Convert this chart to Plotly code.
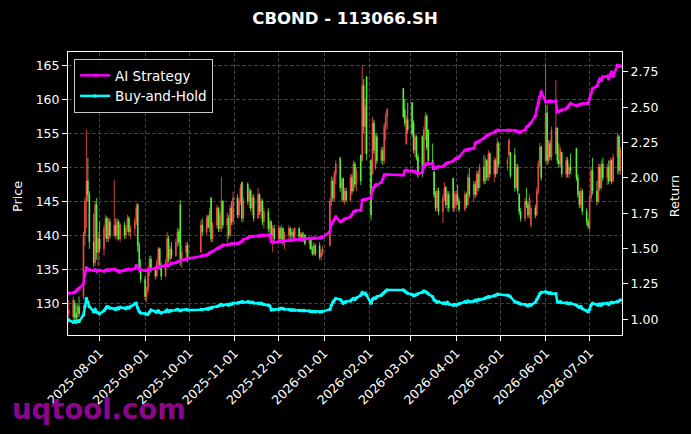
import pandas as pd
import plotly.graph_objects as go

# ---------------- data ----------------
holidays = [
    "2025-10-01", "2025-10-02", "2025-10-03", "2025-10-06", "2025-10-07", "2025-10-08",
    "2026-01-01", "2026-01-02",
    "2026-02-16", "2026-02-17", "2026-02-18", "2026-02-19", "2026-02-20", "2026-02-23",
    "2026-04-06", "2026-05-01", "2026-05-04", "2026-05-05", "2026-06-19",
]
dates = [d for d in pd.bdate_range("2025-07-11", "2026-07-22")
         if d.strftime("%Y-%m-%d") not in holidays]

opens = [
    128.5, 128.0, 130.0, 128.5, 128.0, 129.5, 131.0, 140.0, 145.0, 148.0, 146.0, 139.0, 136.0, 144.5, 137.5,
    139.5, 138.0, 141.0, 142.5, 139.5, 142.0, 140.0, 141.5, 140.0, 142.0, 139.5, 141.5, 140.0, 141.0, 142.5, 140.5, 141.0, 142.0, 144.5, 138.5, 135.0,
    133.5, 131.0, 132.0, 135.0, 136.5, 135.0, 134.0, 136.0, 138.0, 135.5, 134.0, 136.0, 139.5, 136.5, 138.0, 137.0, 139.0, 140.5, 144.5, 136.5, 137.5, 138.5,
    137.5, 141.5, 140.5, 142.8, 141.2, 145.5, 139.5, 141.5, 144.0, 141.0, 141.0, 145.0, 141.5, 142.5, 140.0, 144.0, 142.0,
    145.5, 143.0, 145.0, 147.8, 142.5, 147.5, 145.0, 146.5, 144.0, 145.5, 142.5, 146.0, 143.5, 145.0, 142.0, 143.5, 141.0, 142.0, 140.0, 141.0,
    139.5, 141.0, 139.5, 141.0, 139.0, 140.0, 141.0, 140.0, 140.5, 139.8, 141.0, 139.8, 140.2, 139.3, 140.0, 138.8, 139.5, 138.0, 137.3, 138.5, 138.5, 136.8, 137.5,
    138.5, 145.0, 148.0, 145.5, 149.0, 151.4, 147.0, 148.4, 145.2, 146.5, 145.2, 148.5, 146.5, 150.5, 147.5, 151.8, 151.0, 162.0, 156.0, 163.3,
    151.0, 149.0, 156.5, 150.0, 154.5, 151.0, 152.5, 151.0, 156.0, 157.5, 161.6, 158.5, 153.5, 157.0,
    159.5, 156.5, 152.5, 154.5, 151.5, 154.5, 150.5, 155.5, 157.5, 155.5, 151.0, 149.3, 146.0, 144.0, 146.5, 143.5, 145.5, 147.0, 144.5, 146.0, 148.4, 144.0,
    144.5, 146.0, 145.0, 143.8, 146.0, 144.5, 148.5, 146.0, 147.5, 146.0, 149.0, 147.0, 150.0, 148.0, 151.0, 148.5, 152.0, 149.0, 151.0, 149.1, 153.5,
    150.5, 151.8, 152.2, 151.8, 147.0, 150.0, 146.0, 143.5, 142.5, 145.0, 144.5, 143.0, 141.5, 144.0, 143.0, 146.5, 150.5, 153.0,
    151.0, 158.0, 151.0, 153.5, 151.5, 152.0, 155.8, 151.0, 150.5, 152.2, 149.0, 151.0, 149.0, 150.0, 152.8, 148.5, 146.0, 144.5, 146.5, 143.5, 142.0,
    141.0, 145.5, 149.5, 146.5, 145.0, 150.0, 147.0, 150.5, 148.5, 150.0, 148.0, 151.0, 148.0, 151.5, 154.5, 149.5,
]
highs = [
    130.5, 131.0, 130.5, 129.8, 130.0, 131.0, 140.5, 145.5, 155.5, 151.4, 146.5, 143.2, 145.0, 145.5, 140.5,
    142.0, 141.5, 143.0, 142.8, 142.5, 142.5, 148.2, 142.5, 142.5, 142.3, 141.8, 142.0, 141.5, 143.0, 142.8, 141.5, 142.5, 144.7, 144.7, 139.0, 136.5,
    134.0, 132.5, 135.5, 137.0, 137.0, 135.5, 136.5, 138.3, 138.2, 136.0, 136.5, 140.5, 140.0, 138.5, 139.0, 139.5, 141.1, 141.0, 145.2, 138.5, 139.0, 139.0,
    142.2, 142.5, 143.0, 143.0, 144.0, 145.6, 142.0, 144.5, 144.2, 143.5, 148.6, 145.2, 143.4, 143.0, 144.5, 145.0, 146.4,
    146.0, 145.5, 147.5, 147.8, 145.5, 147.8, 147.0, 146.8, 146.0, 146.0, 147.0, 146.2, 145.5, 145.3, 144.0, 144.0, 142.5, 142.2, 141.5, 141.5,
    141.5, 141.3, 141.5, 141.2, 140.5, 141.5, 141.2, 141.0, 141.0, 141.2, 141.2, 140.5, 140.5, 140.5, 140.2, 139.8, 139.6, 138.5, 139.0, 138.8, 139.0, 138.0, 138.5,
    145.5, 148.7, 148.5, 149.5, 151.0, 151.4, 148.5, 148.4, 147.0, 147.0, 149.0, 149.0, 151.0, 150.8, 150.0, 151.8, 165.0, 163.0, 160.0, 163.4,
    151.2, 157.4, 157.0, 155.0, 155.0, 153.0, 153.0, 156.5, 158.0, 158.7, 161.6, 160.0, 157.6, 159.5,
    159.6, 157.0, 155.0, 154.7, 152.0, 154.7, 156.0, 158.1, 157.8, 155.5, 153.5, 149.5, 146.5, 147.0, 147.0, 146.0, 147.8, 147.3, 146.5, 146.5, 148.4, 146.5,
    146.5, 147.4, 145.5, 146.5, 146.3, 149.0, 149.9, 148.0, 148.0, 149.5, 149.5, 150.5, 151.8, 151.5, 151.2, 152.5, 152.2, 151.5, 151.3, 154.3, 153.8,
    151.5, 154.3, 152.2, 152.8, 150.5, 150.5, 146.2, 144.0, 145.5, 147.0, 145.0, 146.0, 144.5, 144.5, 147.0, 151.0, 153.6, 153.2,
    165.3, 159.2, 154.0, 154.0, 156.0, 162.8, 155.8, 153.5, 153.0, 152.2, 151.5, 151.5, 150.5, 152.0, 152.8, 149.0, 146.5, 147.0, 146.8, 144.0, 142.5,
    146.0, 150.0, 151.4, 148.0, 150.5, 150.5, 151.0, 151.4, 150.5, 151.0, 151.4, 151.2, 152.0, 155.0, 154.8, 153.0,
]
lows = [
    127.0, 127.5, 127.5, 127.3, 127.8, 128.0, 130.5, 138.5, 141.0, 145.0, 138.0, 135.3, 135.5, 136.4, 135.5,
    137.5, 137.0, 139.5, 139.0, 139.0, 139.5, 139.8, 139.5, 139.2, 139.3, 139.0, 139.5, 139.5, 140.5, 140.0, 139.5, 140.0, 141.5, 137.5, 134.5, 133.0,
    130.5, 130.2, 131.5, 134.0, 134.5, 133.5, 133.8, 135.5, 135.0, 133.4, 133.8, 135.5, 136.0, 136.0, 136.5, 136.8, 138.3, 138.5, 135.5, 135.2, 136.5, 136.0,
    137.5, 140.0, 140.0, 141.0, 140.5, 139.0, 139.0, 141.0, 140.5, 140.5, 140.5, 141.0, 139.0, 139.5, 139.8, 141.5, 141.5,
    142.5, 142.5, 144.5, 141.9, 142.0, 144.5, 144.0, 143.5, 143.0, 142.0, 142.5, 143.0, 142.5, 141.5, 141.0, 140.5, 140.0, 139.5, 137.5, 139.0,
    139.0, 139.0, 139.0, 138.5, 138.0, 139.5, 139.5, 139.0, 139.5, 139.5, 139.5, 139.0, 139.0, 139.0, 138.5, 138.0, 137.8, 137.0, 137.0, 137.0, 136.4, 136.3, 137.0,
    138.3, 144.3, 145.0, 145.0, 147.5, 146.4, 145.0, 144.8, 144.5, 144.9, 145.0, 146.0, 146.4, 147.0, 146.5, 147.4, 150.8, 155.0, 152.0, 151.0,
    142.2, 148.9, 152.0, 149.6, 150.5, 150.5, 150.3, 150.5, 154.0, 155.5, 157.2, 156.0, 153.3, 155.0,
    154.5, 152.0, 151.4, 151.0, 148.4, 148.5, 150.3, 154.0, 152.5, 150.5, 149.6, 145.5, 143.5, 143.5, 143.0, 141.8, 145.0, 144.0, 143.5, 143.4, 143.4, 143.5,
    144.0, 144.5, 143.4, 143.5, 144.0, 144.3, 145.5, 144.9, 145.5, 145.8, 146.5, 147.0, 147.5, 147.5, 148.0, 148.0, 148.5, 147.8, 148.5, 149.1, 149.9,
    149.5, 151.5, 148.4, 146.4, 146.8, 146.0, 143.0, 142.0, 142.0, 144.0, 142.5, 142.5, 141.1, 142.5, 142.8, 146.0, 150.0, 148.0,
    150.8, 150.3, 150.5, 151.0, 151.0, 151.8, 150.5, 149.9, 150.0, 148.5, 148.4, 148.5, 148.4, 149.0, 148.0, 145.5, 144.0, 144.0, 143.0, 141.5, 141.0,
    140.5, 145.0, 146.0, 144.4, 144.8, 146.5, 146.8, 148.0, 147.4, 147.5, 147.8, 147.5, 147.8, 149.0, 148.9, 149.0,
]
closes = [
    129.0, 130.5, 128.0, 127.8, 129.5, 128.5, 140.0, 145.0, 148.0, 146.0, 139.0, 136.0, 144.5, 137.5, 139.5,
    138.0, 141.0, 142.5, 139.5, 142.0, 140.0, 141.5, 140.0, 142.0, 139.5, 141.5, 140.0, 141.0, 142.5, 140.5, 141.0, 142.0, 144.0, 138.5, 135.0, 133.5,
    131.0, 132.0, 135.0, 136.5, 135.0, 134.0, 136.0, 138.0, 135.5, 134.0, 136.0, 139.5, 136.5, 138.0, 137.0, 139.0, 140.5, 139.0, 136.5, 137.5, 138.5, 136.5,
    141.5, 140.5, 142.5, 141.2, 143.5, 139.5, 141.5, 144.0, 141.0, 143.0, 145.0, 141.5, 142.5, 140.0, 144.0, 142.0, 145.5,
    143.0, 145.0, 147.0, 142.5, 145.0, 145.0, 146.5, 144.0, 145.5, 142.5, 146.0, 143.5, 145.0, 142.0, 143.5, 141.0, 142.0, 140.0, 141.0, 139.5,
    141.0, 139.5, 141.0, 139.0, 140.0, 141.0, 140.0, 140.5, 139.8, 141.0, 139.8, 140.2, 139.3, 140.0, 138.8, 139.5, 138.0, 137.3, 138.5, 137.2, 136.8, 137.5, 138.0,
    145.0, 148.0, 145.5, 149.0, 150.5, 147.0, 148.0, 145.2, 146.5, 145.2, 148.5, 146.5, 150.5, 147.5, 149.5, 148.0, 162.0, 156.0, 159.0, 152.0,
    143.0, 156.5, 152.5, 154.5, 151.0, 152.5, 151.0, 156.0, 157.5, 158.5, 157.5, 156.5, 157.0, 155.5,
    155.0, 152.5, 154.5, 151.5, 149.0, 149.0, 155.5, 157.5, 153.0, 151.0, 150.0, 146.0, 144.0, 146.5, 143.5, 145.5, 147.0, 144.5, 146.0, 144.0, 144.0, 146.0,
    146.0, 145.0, 143.8, 146.0, 144.5, 148.5, 146.0, 147.5, 146.0, 149.0, 147.0, 150.0, 148.0, 151.0, 148.5, 152.0, 149.0, 151.0, 149.0, 153.5, 150.5,
    151.0, 154.0, 148.8, 147.0, 150.0, 146.5, 143.5, 142.5, 145.0, 144.5, 143.0, 145.5, 144.0, 143.0, 146.5, 150.5, 153.0, 148.5,
    158.0, 151.0, 153.5, 151.5, 155.5, 155.8, 151.0, 150.5, 152.5, 149.0, 151.0, 149.0, 150.0, 149.5, 148.5, 146.0, 144.5, 146.5, 143.5, 142.0, 141.3,
    145.5, 149.5, 146.5, 145.0, 150.0, 147.0, 150.5, 148.5, 150.0, 148.0, 151.0, 148.0, 151.5, 154.5, 149.5, 152.5,
]
ai_strategy = [
    1.184, 1.186, 1.19, 1.20, 1.21, 1.22, 1.25, 1.32, 1.365, 1.355, 1.35, 1.345, 1.35, 1.34, 1.345,
    1.345, 1.34, 1.345, 1.35, 1.345, 1.35, 1.355, 1.35, 1.345, 1.335, 1.34, 1.345, 1.35, 1.35, 1.355, 1.35, 1.36, 1.38, 1.37, 1.355, 1.35,
    1.345, 1.345, 1.35, 1.355, 1.355, 1.36, 1.365, 1.37, 1.37, 1.375, 1.38, 1.385, 1.38, 1.39, 1.395, 1.40, 1.405, 1.41, 1.415, 1.42, 1.425, 1.43,
    1.445, 1.45, 1.455, 1.46, 1.47, 1.475, 1.48, 1.50, 1.505, 1.51, 1.515, 1.525, 1.525, 1.53, 1.53, 1.535, 1.535,
    1.537, 1.54, 1.545, 1.55, 1.565, 1.575, 1.584, 1.585, 1.585, 1.588, 1.59, 1.59, 1.592, 1.594, 1.595, 1.596, 1.596, 1.55, 1.545, 1.545,
    1.548, 1.55, 1.55, 1.552, 1.555, 1.558, 1.56, 1.56, 1.562, 1.565, 1.565, 1.567, 1.568, 1.57, 1.57, 1.572, 1.572, 1.573, 1.574, 1.575, 1.575, 1.578, 1.58,
    1.62, 1.678, 1.69, 1.71, 1.725, 1.69, 1.695, 1.70, 1.71, 1.715, 1.725, 1.74, 1.76, 1.765, 1.77, 1.772, 1.843, 1.845, 1.85, 1.85,
    1.86, 1.914, 1.935, 1.95, 1.95, 1.97, 1.99, 2.02, 2.02, 2.025, 2.02, 2.05, 2.055, 2.05,
    2.05, 2.045, 2.045, 2.04, 2.03, 2.04, 2.08, 2.09, 2.10, 2.10, 2.10, 2.067, 2.07, 2.075, 2.08, 2.08, 2.09, 2.10, 2.105, 2.11, 2.12, 2.13,
    2.138, 2.14, 2.15, 2.196, 2.198, 2.20, 2.205, 2.21, 2.244, 2.25, 2.255, 2.26, 2.28, 2.29, 2.30, 2.305, 2.31, 2.32, 2.33, 2.338, 2.338,
    2.338, 2.338, 2.338, 2.335, 2.331, 2.33, 2.32, 2.325, 2.34, 2.36, 2.365, 2.38, 2.39, 2.44, 2.49, 2.53, 2.573, 2.61,
    2.54, 2.54, 2.54, 2.54, 2.54, 2.54, 2.467, 2.47, 2.475, 2.48, 2.49, 2.50, 2.515, 2.527, 2.51, 2.515, 2.52, 2.52, 2.525, 2.527, 2.527,
    2.56, 2.60, 2.632, 2.65, 2.68, 2.70, 2.69, 2.715, 2.72, 2.70, 2.73, 2.75, 2.72, 2.797, 2.795, 2.79,
]
buy_hold = [
    0.995, 0.98, 0.985, 0.98, 0.99, 0.985, 1.03, 1.09, 1.148, 1.12, 1.09, 1.054, 1.07, 1.05, 1.045,
    1.04, 1.06, 1.075, 1.09, 1.085, 1.08, 1.075, 1.07, 1.08, 1.075, 1.085, 1.08, 1.075, 1.085, 1.08, 1.09, 1.11, 1.113, 1.08, 1.055, 1.045,
    1.04, 1.035, 1.035, 1.05, 1.065, 1.055, 1.05, 1.06, 1.05, 1.045, 1.055, 1.065, 1.055, 1.06, 1.06, 1.065, 1.07, 1.065, 1.06, 1.065, 1.07, 1.065,
    1.07, 1.068, 1.075, 1.072, 1.08, 1.078, 1.085, 1.09, 1.095, 1.10, 1.105, 1.10, 1.105, 1.10, 1.108, 1.105, 1.113,
    1.115, 1.118, 1.12, 1.124, 1.12, 1.124, 1.122, 1.118, 1.12, 1.115, 1.113, 1.11, 1.113, 1.108, 1.105, 1.10, 1.095, 1.066, 1.07, 1.068,
    1.07, 1.075, 1.078, 1.075, 1.072, 1.07, 1.066, 1.065, 1.066, 1.064, 1.062, 1.063, 1.06, 1.062, 1.06, 1.058, 1.056, 1.054, 1.056, 1.054, 1.052, 1.054, 1.056,
    1.07, 1.10, 1.12, 1.135, 1.148, 1.14, 1.13, 1.113, 1.12, 1.125, 1.13, 1.14, 1.148, 1.14, 1.15, 1.17, 1.19, 1.18, 1.185, 1.17,
    1.113, 1.14, 1.15, 1.148, 1.16, 1.17, 1.18, 1.19, 1.20, 1.207, 1.207, 1.20, 1.19, 1.185,
    1.175, 1.167, 1.17, 1.175, 1.18, 1.19, 1.20, 1.195, 1.19, 1.18, 1.16, 1.136, 1.13, 1.12, 1.125, 1.113, 1.115, 1.11, 1.12, 1.108, 1.10, 1.105,
    1.10, 1.105, 1.11, 1.124, 1.12, 1.13, 1.125, 1.128, 1.135, 1.13, 1.14, 1.138, 1.145, 1.15, 1.155, 1.16, 1.158, 1.165, 1.17, 1.177, 1.175,
    1.17, 1.167, 1.16, 1.124, 1.12, 1.118, 1.113, 1.108, 1.105, 1.10, 1.095, 1.105, 1.10, 1.12, 1.14, 1.16, 1.18, 1.19,
    1.195, 1.19, 1.185, 1.188, 1.183, 1.18, 1.124, 1.12, 1.125, 1.118, 1.115, 1.113, 1.11, 1.113, 1.10, 1.09, 1.085, 1.09, 1.075, 1.06, 1.054,
    1.07, 1.10, 1.113, 1.105, 1.10, 1.108, 1.10, 1.11, 1.113, 1.105, 1.115, 1.12, 1.118, 1.124, 1.13, 1.136,
]

price_ticks = [130, 135, 140, 145, 150, 155, 160, 165]
return_ticks = [1.00, 1.25, 1.50, 1.75, 2.00, 2.25, 2.50, 2.75]

n = min(len(dates), len(opens), len(highs), len(lows), len(closes), len(ai_strategy), len(buy_hold))
dates = dates[:n]

# ---------------- styling ----------------
UP = "#ff5050"
DOWN = "#62ff3c"
GRID = "rgba(150,150,150,0.42)"
FONT = "DejaVu Sans"

fig = go.Figure()
fig.add_trace(go.Candlestick(
    x=dates, open=opens[:n], high=highs[:n], low=lows[:n], close=closes[:n],
    increasing=dict(line=dict(color=UP, width=0.8), fillcolor=UP),
    decreasing=dict(line=dict(color=DOWN, width=0.8), fillcolor=DOWN),
    whiskerwidth=0, showlegend=False, yaxis="y", hoverinfo="skip",
))
fig.add_trace(go.Scatter(
    x=dates, y=ai_strategy[:n], name="AI Strategy", mode="lines+markers",
    line=dict(color="#ff00ff", width=2.5), marker=dict(size=3.5, color="#ff00ff"),
    yaxis="y2",
))
fig.add_trace(go.Scatter(
    x=dates, y=buy_hold[:n], name="Buy-and-Hold", mode="lines+markers",
    line=dict(color="#00ffff", width=2.5), marker=dict(size=3.5, color="#00ffff"),
    yaxis="y2",
))

axis_common = dict(
    showline=True, linecolor="white", linewidth=1,
    ticks="outside", ticklen=5, tickwidth=1, tickcolor="white",
    tickfont=dict(family=FONT, size=12.5, color="white"),
    zeroline=False,
)

fig.update_layout(
    width=691, height=434,
    paper_bgcolor="black", plot_bgcolor="black",
    margin=dict(l=68, r=69, t=52, b=99),
    font=dict(family=FONT, color="white", size=12.5),
    title=dict(text="<b>CBOND - 113066.SH</b>", x=0.5, xref="paper", xanchor="center",
               y=1 - 18 / 434, yref="container", yanchor="middle",
               font=dict(family=FONT, size=16.5, color="white")),
    xaxis=dict(
        type="date", range=["2025-07-10 11:00", "2026-07-23 01:40"],
        rangeslider=dict(visible=False),
        tick0="2025-08-01", dtick="M1", tickformat="%Y-%m-%d", tickangle=-45,
        showgrid=True, gridcolor=GRID, gridwidth=0.7, griddash="4px,2px",
        mirror=True, **axis_common,
    ),
    yaxis=dict(
        range=[125.34, 166.95], tickvals=price_ticks,
        showgrid=True, gridcolor=GRID, gridwidth=0.7, griddash="4px,2px",
        mirror=True, **axis_common,
    ),
    yaxis2=dict(
        overlaying="y", side="right", range=[0.889, 2.891],
        tickvals=return_ticks, tickformat=".2f", showgrid=False,
        **axis_common,
    ),
    legend=dict(x=0.011, y=0.975, xanchor="left", yanchor="top",
                bgcolor="black", bordercolor="#c8c8c8", borderwidth=1,
                tracegroupgap=0, itemwidth=30,
                font=dict(family=FONT, size=13.5, color="white")),
    showlegend=True,
    annotations=[
        dict(text="Price", xref="paper", yref="paper", x=(17.5 - 67.7) / 553.7, y=0.49,
             showarrow=False, textangle=-90, xanchor="center", yanchor="middle",
             font=dict(family=FONT, size=12.8, color="white")),
        dict(text="Return", xref="paper", yref="paper", x=(673.3 - 67.7) / 553.7, y=0.49,
             showarrow=False, textangle=-90, xanchor="center", yanchor="middle",
             font=dict(family=FONT, size=12.8, color="white")),
        dict(text="<b>uqtool.com</b>", xref="paper", yref="paper",
             x=(10 - 67.7) / 553.7, y=(335 - 409) / 283.3,
             showarrow=False, xanchor="left", yanchor="middle",
             font=dict(family=FONT, size=27.5, color="#8b068b")),
    ],
)

fig.write_html("out.html")
